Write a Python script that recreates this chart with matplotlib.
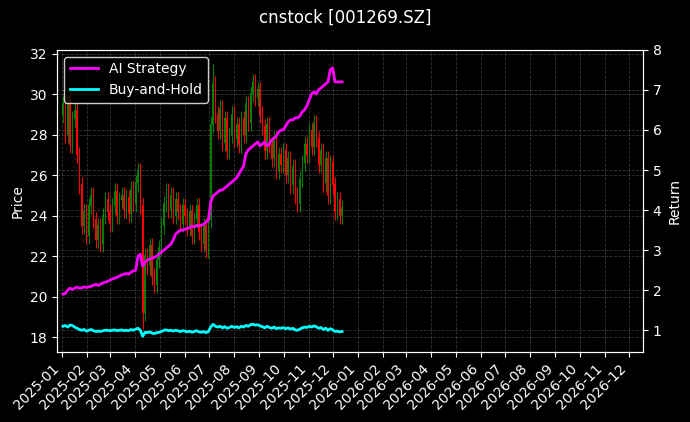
"""Candlestick price chart with strategy vs buy-and-hold return"""
import matplotlib
matplotlib.use("Agg")
import matplotlib.pyplot as plt
import matplotlib.dates as mdates
import numpy as np
import pandas as pd

closes = [
    29.5, 28.0, 29.8, 27.5, 28.8, 29.2, 27.0, 25.5, 23.5, 24.2, 23.0,
    24.5, 25.0, 23.8, 22.8, 23.5, 22.6, 24.0, 24.8, 24.2, 23.6,
    24.5, 25.2, 24.0, 24.8, 25.0, 24.3, 24.9, 24.1, 25.3, 24.6, 25.6,
    26.2, 24.5, 19.2, 22.0, 21.5, 22.5, 21.0, 20.6, 21.8, 22.4,
    23.5, 24.6, 25.2, 24.3, 25.0, 24.0, 24.8, 24.2, 23.6, 24.5,
    24.0, 23.4, 24.2, 23.0, 23.8, 24.5, 23.2, 22.6, 23.5, 22.3, 23.8,
    28.5, 30.5, 29.0, 28.2, 29.3, 27.6, 28.8, 27.2, 28.0, 29.0, 27.8,
    28.5, 27.5, 28.8, 28.0, 29.5, 28.6, 30.0, 30.6, 29.8, 30.2,
    29.0, 28.4, 27.2, 28.5, 27.5, 26.8, 27.8, 26.2, 27.0, 26.5, 27.2,
    26.0, 26.8, 25.5, 26.4, 25.0, 24.6, 25.8, 26.6, 27.5,
    27.0, 28.2, 27.4, 28.6, 27.8, 26.5, 27.2, 25.6, 26.8, 25.0,
    26.6, 25.5, 24.2, 24.8, 24.0, 24.4,
]
strategy = [
    1.9, 1.92, 2.0, 2.05, 2.02, 2.05, 2.08, 2.05, 2.06, 2.08, 2.07,
    2.08, 2.1, 2.12, 2.15, 2.12, 2.15, 2.18, 2.2, 2.22, 2.25,
    2.28, 2.3, 2.32, 2.35, 2.38, 2.4, 2.42, 2.4, 2.45, 2.48, 2.5,
    2.85, 2.9, 2.6, 2.7, 2.75, 2.78, 2.8, 2.82, 2.85, 2.9,
    2.95, 3.0, 3.05, 3.1, 3.15, 3.25, 3.4, 3.45, 3.5, 3.5,
    3.52, 3.55, 3.55, 3.6, 3.58, 3.62, 3.6, 3.62, 3.65, 3.7, 3.75,
    4.2, 4.35, 4.4, 4.45, 4.5, 4.5, 4.55, 4.6, 4.65, 4.7, 4.75,
    4.8, 4.9, 5.0, 5.1, 5.4, 5.5, 5.55, 5.6, 5.65, 5.7,
    5.6, 5.65, 5.7, 5.6, 5.65, 5.75, 5.8, 5.85, 5.95, 6.0, 6.0,
    6.1, 6.2, 6.25, 6.25, 6.3, 6.3, 6.35, 6.45, 6.5,
    6.6, 6.75, 6.9, 6.95, 6.9, 7.0, 7.05, 7.1, 7.15, 7.2,
    7.5, 7.55, 7.2, 7.2, 7.2, 7.2,
]
buy_hold = [
    1.1, 1.12, 1.08, 1.13, 1.12, 1.08, 1.05, 1.02, 1.0, 1.02, 0.98,
    1.0, 1.02, 0.99, 0.97, 0.98, 0.97, 0.99, 1.0, 1.0, 0.99,
    1.0, 1.01, 0.99, 1.0, 1.01, 0.99, 1.0, 0.99, 1.02, 1.0, 1.03,
    1.05, 1.0, 0.85, 0.95, 0.94, 0.96, 0.93, 0.92, 0.94, 0.95,
    0.97, 1.0, 1.01, 0.99, 1.0, 0.98, 1.0, 0.99, 0.97, 0.99,
    0.98, 0.96, 0.98, 0.95, 0.97, 0.99, 0.96, 0.95, 0.97, 0.94, 0.97,
    1.08, 1.15, 1.1, 1.08, 1.1, 1.06, 1.09, 1.05, 1.07, 1.1, 1.07,
    1.09, 1.06, 1.1, 1.08, 1.12, 1.1, 1.14, 1.15, 1.13, 1.14,
    1.11, 1.09, 1.06, 1.1, 1.07, 1.05, 1.08, 1.04, 1.06, 1.05, 1.07,
    1.04, 1.06, 1.03, 1.05, 1.01, 1.0, 1.03, 1.06, 1.08,
    1.07, 1.1, 1.08, 1.11, 1.09, 1.05, 1.07, 1.02, 1.05, 1.0,
    1.04, 1.01, 0.97, 0.98, 0.96, 0.97,
]


def main():
    dates = pd.date_range("2025-01-02", "2025-12-12", periods=len(closes))
    close = np.array(closes)
    opens = np.concatenate([[close[0] - 0.5], close[:-1]])
    highs = np.maximum(opens, close) + 0.4
    lows = np.minimum(opens, close) - 0.4
    highs[64] = 31.5
    lows[34] = 18.4

    plt.style.use("dark_background")
    fig, ax = plt.subplots(figsize=(6.9, 4.22), dpi=100)
    fig.patch.set_facecolor("black")
    ax.set_facecolor("black")

    x = mdates.date2num(dates)
    colors = np.where(close >= opens, "green", "red")
    ax.vlines(x, lows, highs, colors=colors, linewidth=0.8)
    ax.bar(x, np.abs(close - opens) + 0.05, bottom=np.minimum(opens, close),
           width=1.6, color=colors)

    ax.set_ylim(17.3, 32.2)
    ax.set_ylabel("Price")
    ax.grid(True, linestyle="--", color="gray", alpha=0.4, linewidth=0.6)

    ax2 = ax.twinx()
    ax2.plot(dates, strategy, color="magenta", linewidth=2, label="AI Strategy")
    ax2.plot(dates, buy_hold, color="cyan", linewidth=2, label="Buy-and-Hold")
    ax2.set_ylim(0.47, 8.0)
    ax2.set_ylabel("Return")
    ax2.grid(True, linestyle="--", color="gray", alpha=0.4, linewidth=0.6)
    ax2.legend(loc="upper left", facecolor="black", edgecolor="white")

    ax.set_xlim(mdates.datestr2num("2024-12-26"), mdates.datestr2num("2026-12-18"))
    ax.xaxis.set_major_locator(mdates.MonthLocator())
    ax.xaxis.set_major_formatter(mdates.DateFormatter("%Y-%m"))
    plt.setp(ax.get_xticklabels(), rotation=45, ha="right")

    fig.suptitle("cnstock [001269.SZ]")
    fig.subplots_adjust(left=0.083, right=0.932, top=0.882, bottom=0.167)
    fig.savefig("out.png")


if __name__ == "__main__":
    main()
